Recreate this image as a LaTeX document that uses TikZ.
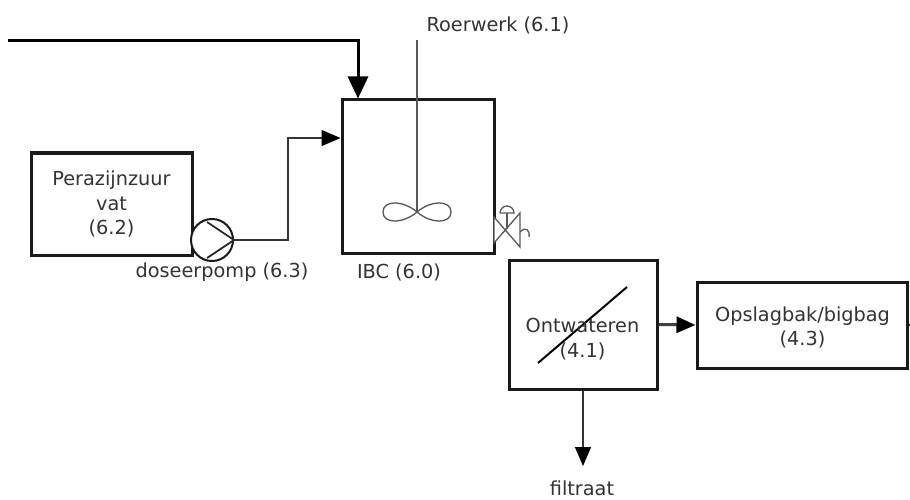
\documentclass[tikz,border=0pt]{standalone}
\usepackage{fontspec}
\setmainfont{DejaVu Sans}
\usetikzlibrary{arrows.meta,calc}
\definecolor{txt}{HTML}{333333}
\tikzset{
 box/.style={draw=black!90,line width=3pt,fill=white,inner sep=0pt,align=center,text=txt,font=\fontsize{19.3}{24.3}\selectfont},
 lbl/.style={inner sep=0pt,text=txt,font=\fontsize{19.3}{24}\selectfont},
 thick line/.style={line width=3pt,draw=black},
 thin line/.style={line width=1.2pt,draw=black!80},
 head/.style={-{Triangle[length=22pt,width=20pt]}},
 smallhead/.style={-{Triangle[length=19pt,width=16pt,color=black]}},
 sym/.style={line width=1.3pt,draw=black!65}
}
\begin{document}
\begin{tikzpicture}[x=1pt,y=-1pt]
\useasboundingbox (0,0) rectangle (910,500);
% boxes
\node[box,minimum width=161pt,minimum height=102pt] (vat) at (111.5,204) {Perazijnzuur\\vat\\(6.2)};
\node[box,minimum width=152pt,minimum height=153pt] (ibc) at (418,176.5) {};
\node[box,minimum width=148pt,minimum height=129pt] (ont) at (583,324.5) {};
\node[box,minimum width=210pt,minimum height=86pt] (ops) at (802,325) {};
% agitator
\coordinate (agtop) at (417,40);
\coordinate (hub) at (417,212);
\draw[sym] (agtop) -- (hub);
\draw[sym] (hub) .. controls (403,200) and (383,200) .. (383,212) .. controls (383,224) and (403,224) .. (hub)
 .. controls (431,200) and (451,200) .. (451,212) .. controls (451,224) and (431,224) .. (hub);
% labels
\node[lbl] (lroer) at (498,25) {Roerwerk (6.1)};
\node[lbl] (ldos) at (222,272.5) {doseerpomp (6.3)};
\node[lbl] (libc) at (399,272.5) {IBC (6.0)};
\node[lbl] (lfil) at (582,488) {filtraat};
% pump
\node[circle,draw=black!90,line width=2pt,minimum size=42pt,inner sep=0pt,fill=white] (pump) at (212,240) {};
\draw[line width=1.8pt,draw=black!85] (207,222) -- (pump.east) -- (207,258);
% top feed
\coordinate (feed) at (8,41);
\coordinate (feedc) at (358,41);
\draw[thick line,head] (feed) -- (feedc) -- (ibc.north -| feedc);
% dosing line
\coordinate (d1) at (288,240);
\coordinate (d2) at (288,138);
\draw[thin line,smallhead] (pump.east) -- (d1) -- (d2) -- (d2 -| ibc.west);
% valve
\coordinate (vc) at (507,229);
\draw[sym,fill=white] (494,217) -- (520,247) -- (520,213) -- (494,243) -- cycle;
\draw[sym] (vc) -- (507,213);
\draw[sym] (500,213) -- (514,213) arc (0:-180:7 and 7);
\draw[sym] (520,232) .. controls (526,226) and (530,230) .. (529,237);
% right side
\draw[line width=3pt,draw=black!75,smallhead] (ont.east) -- (ops.west);
\draw[thin line,smallhead] (ont.south) -- (583,466);
\coordinate (tick) at (910,325);
\draw[thin line] (ops.east) -- (tick);
% ontwateren contents
\coordinate (dg1) at (538,363);
\coordinate (dg2) at (627,287);
\draw[line width=2pt,draw=black] (dg1) -- (dg2);
\node[box,draw=none,fill=none] (ontt) at (582.5,339) {Ontwateren\\(4.1)};
\node[box,draw=none,fill=none] (opst) at (802.5,327.5) {Opslagbak/bigbag\\(4.3)};
\end{tikzpicture}
\end{document}
